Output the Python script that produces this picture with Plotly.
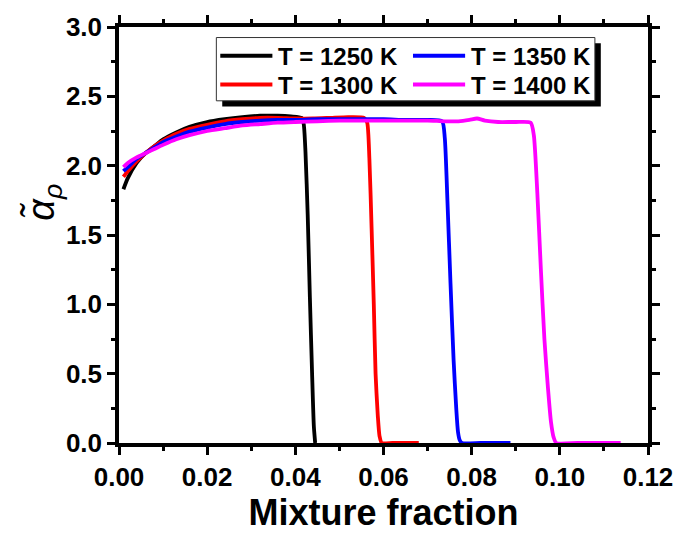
import plotly.graph_objects as go

# Density-weighted coefficient vs mixture fraction, one curve per temperature
temps = ["T = 1250 K", "T = 1300 K", "T = 1350 K", "T = 1400 K"]
colors = ["#000000", "#ff0000", "#0000ff", "#ff00ff"]

z_1250 = [0.001, 0.002, 0.004, 0.006, 0.008, 0.010, 0.013, 0.016, 0.020, 0.024, 0.028,
          0.032, 0.036, 0.039, 0.0414, 0.0419, 0.0423, 0.0428, 0.0433, 0.0438, 0.0442, 0.0445]
a_1250 = [1.83, 1.91, 2.02, 2.09, 2.14, 2.19, 2.24, 2.28, 2.315, 2.335, 2.35,
          2.36, 2.36, 2.355, 2.345, 2.30, 2.10, 1.65, 1.05, 0.50, 0.12, 0.0]

z_1300 = [0.001, 0.002, 0.004, 0.006, 0.008, 0.010, 0.013, 0.016, 0.020, 0.024, 0.028,
          0.032, 0.036, 0.040, 0.044, 0.048, 0.052, 0.0556, 0.0563, 0.0568, 0.0573, 0.0578,
          0.0582, 0.0587, 0.0591, 0.0596, 0.062, 0.065, 0.068]
a_1300 = [1.92, 1.96, 2.03, 2.09, 2.14, 2.18, 2.23, 2.265, 2.295, 2.32, 2.335,
          2.345, 2.345, 2.34, 2.34, 2.345, 2.35, 2.345, 2.31, 2.05, 1.55, 1.00,
          0.50, 0.20, 0.05, 0.0, 0.0, 0.0, 0.0]

z_1350 = [0.001, 0.002, 0.004, 0.006, 0.008, 0.010, 0.013, 0.016, 0.020, 0.024, 0.028,
          0.032, 0.036, 0.040, 0.045, 0.050, 0.055, 0.060, 0.065, 0.070, 0.0733, 0.0739,
          0.0745, 0.0752, 0.0759, 0.0765, 0.0769, 0.0773, 0.0778, 0.082, 0.086, 0.0888]
a_1350 = [1.96, 1.99, 2.05, 2.09, 2.13, 2.17, 2.21, 2.245, 2.275, 2.30, 2.315,
          2.325, 2.33, 2.33, 2.335, 2.335, 2.335, 2.335, 2.33, 2.33, 2.32, 2.20,
          1.75, 1.15, 0.60, 0.25, 0.08, 0.02, 0.0, 0.0, 0.0, 0.0]

z_1400 = [0.001, 0.002, 0.004, 0.006, 0.008, 0.010, 0.013, 0.016, 0.020, 0.024, 0.028,
          0.032, 0.036, 0.040, 0.045, 0.050, 0.055, 0.060, 0.065, 0.070, 0.074, 0.077,
          0.0795, 0.0812, 0.083, 0.086, 0.090, 0.0934, 0.0941, 0.0949, 0.0957, 0.0965,
          0.0973, 0.0980, 0.0986, 0.0992, 0.104, 0.109, 0.1138]
a_1400 = [1.99, 2.02, 2.06, 2.09, 2.12, 2.15, 2.19, 2.22, 2.25, 2.27, 2.29,
          2.30, 2.31, 2.315, 2.32, 2.325, 2.325, 2.325, 2.325, 2.325, 2.32, 2.32,
          2.33, 2.34, 2.325, 2.315, 2.315, 2.31, 2.22, 1.80, 1.25, 0.75,
          0.40, 0.15, 0.04, 0.0, 0.0, 0.0, 0.0]

series_z = [z_1250, z_1300, z_1350, z_1400]
series_a = [a_1250, a_1300, a_1350, a_1400]

x_ticks = [0.0, 0.02, 0.04, 0.06, 0.08, 0.10, 0.12]
x_ticklabels = ["0.00", "0.02", "0.04", "0.06", "0.08", "0.10", "0.12"]
y_ticks = [0.0, 0.5, 1.0, 1.5, 2.0, 2.5, 3.0]
y_ticklabels = ["0.0", "0.5", "1.0", "1.5", "2.0", "2.5", "3.0"]

W, H = 685, 535
ML, MR, MT, MB = 119, 28, 15, 86
PW, PH = W - ML - MR, H - MT - MB

FONT = "Arial, Liberation Sans, sans-serif"

fig = go.Figure()
for name, col, zs, al in zip(temps, colors, series_z, series_a):
    fig.add_trace(go.Scatter(
        x=zs, y=al, mode="lines", name=name, showlegend=False,
        line=dict(color=col, width=3.8, shape="spline", smoothing=0.6),
    ))


def px(x):
    return (x - ML) / PW


def py(y):
    return (H - MB - y) / PH


shapes = []
annotations = []

# Legend box with drop shadow
bx0, bx1, by0, by1 = 218, 603, 26, 92
shapes.append(dict(type="rect", xref="paper", yref="paper",
                   x0=px(bx0 + 6), x1=px(bx1 + 6), y0=py(by1 + 6), y1=py(by0 + 6),
                   fillcolor="black", line=dict(width=0)))
shapes.append(dict(type="rect", xref="paper", yref="paper",
                   x0=px(bx0), x1=px(bx1), y0=py(by1), y1=py(by0),
                   fillcolor="white", line=dict(color="#333333", width=1)))

legend_slots = [(222, 45), (222, 75), (418, 45), (418, 75)]
for (lx, ly), name, col in zip(legend_slots, temps, colors):
    shapes.append(dict(type="line", xref="paper", yref="paper",
                       x0=px(lx), x1=px(lx + 53), y0=py(ly), y1=py(ly),
                       line=dict(color=col, width=4)))
    annotations.append(dict(xref="paper", yref="paper", x=px(lx + 57), y=py(ly + 1),
                            xanchor="left", yanchor="middle", showarrow=False,
                            text="<b>%s</b>" % name,
                            font=dict(family=FONT, size=24, color="black")))

# Rotated y-axis label
annotations.append(dict(xref="paper", yref="paper", x=px(43), y=py(198),
                        xanchor="center", yanchor="middle", showarrow=False,
                        textangle=-90,
                        text="<i>α\u0303</i><sub><i>ρ</i></sub>",
                        font=dict(family=FONT, size=38, color="black")))

axis_common = dict(
    showline=True, linecolor="black", linewidth=3.5, mirror="allticks",
    ticks="outside", ticklen=8, tickwidth=3, tickcolor="black",
    showgrid=False, zeroline=False,
    tickfont=dict(family=FONT, size=26, color="black"),
)

fig.update_layout(
    width=W, height=H,
    margin=dict(l=ML, r=MR, t=MT, b=MB),
    plot_bgcolor="white", paper_bgcolor="white",
    xaxis=dict(
        range=[0, 0.12], tickvals=x_ticks,
        ticktext=["<b>%s</b>" % t for t in x_ticklabels],
        minor=dict(dtick=0.01, ticks="outside", ticklen=4, tickwidth=3, tickcolor="black"),
        title=dict(text="<b>Mixture fraction</b>",
                   font=dict(family=FONT, size=36, color="black"), standoff=6),
        **axis_common,
    ),
    yaxis=dict(
        range=[0, 3.0], tickvals=y_ticks,
        ticktext=["<b>%s</b>" % t for t in y_ticklabels],
        minor=dict(dtick=0.25, ticks="outside", ticklen=4, tickwidth=3, tickcolor="black"),
        **axis_common,
    ),
    shapes=shapes,
    annotations=annotations,
)

fig.write_html("out.html")
